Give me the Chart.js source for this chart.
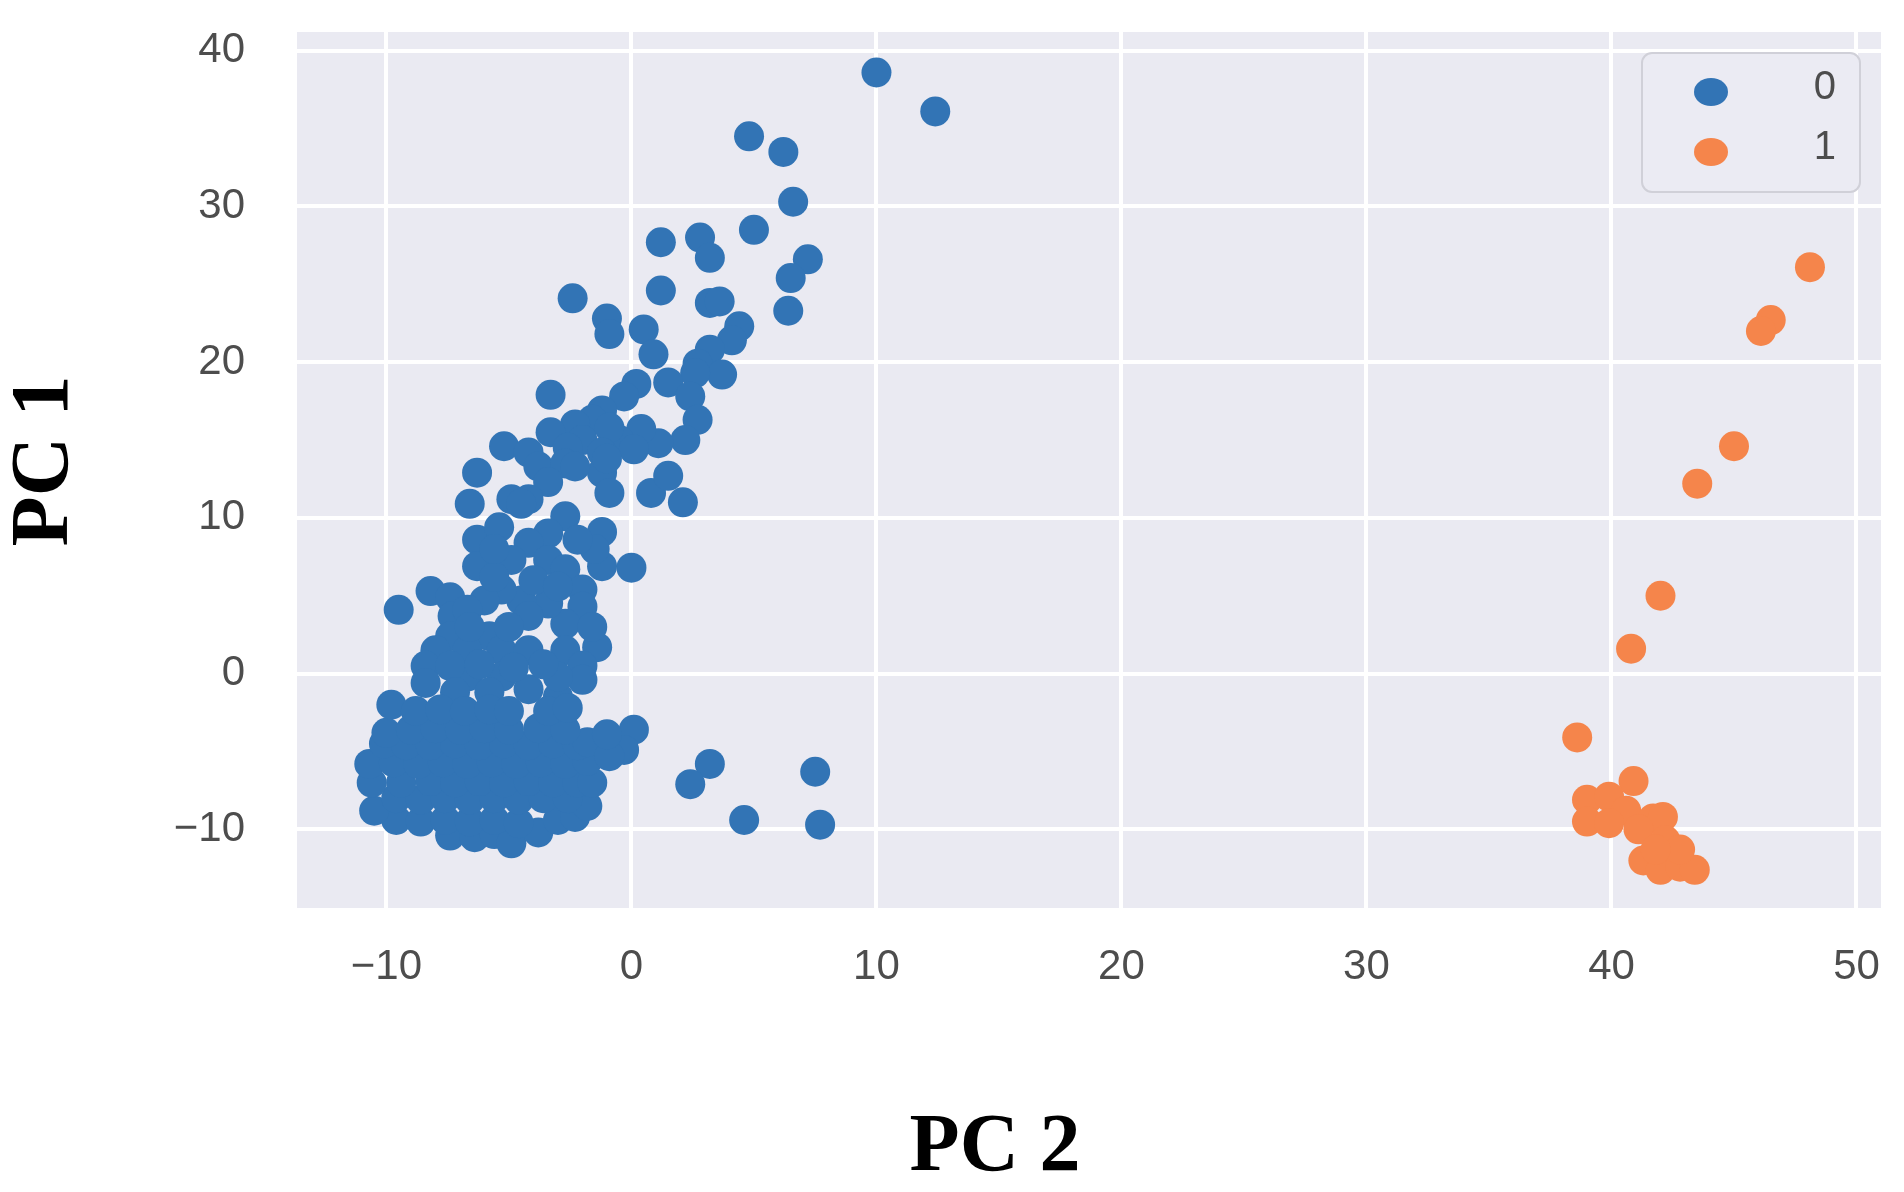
<!DOCTYPE html>
<html>
<head>
<meta charset="utf-8">
<script src="https://cdn.jsdelivr.net/npm/chart.js@4.4.1/dist/chart.umd.min.js"></script>
<style>
  html, body { margin: 0; padding: 0; background: #ffffff; }
  #wrap { width: 1904px; height: 1192px; }
</style>
</head>
<body>
<div id="wrap"><canvas id="c" width="1904" height="1192"></canvas></div>
<script>
// ---- data ----
const seriesLabels = ['0', '1'];
const seriesColors = ['#3274b5', '#f5854b'];

// class 0 points: [PC 2, PC 1]
const class0 = [
  [10.0,38.6],[12.4,36.1],[4.8,34.5],[6.2,33.5],[6.6,30.3],[5.0,28.5],[1.2,27.7],[2.8,28.0],
  [3.2,26.7],[7.2,26.6],[6.5,25.4],[1.2,24.6],[3.2,23.8],[3.6,23.9],[6.4,23.3],[-2.4,24.1],
  [-1.0,22.8],[-0.9,21.8],[0.5,22.1],[0.9,20.5],[4.4,22.3],[4.1,21.4],[3.2,20.8],[2.7,19.9],
  [3.7,19.2],[2.6,19.3],[-3.3,17.9],[0.2,18.6],[1.5,18.7],[2.4,17.8],[2.7,16.3],[2.2,15.0],
  [1.1,14.8],[0.4,15.7],[-0.3,17.8],[-1.2,16.9],[-1.6,16.3],[-2.3,16.0],[-3.3,15.5],[-5.2,14.6],
  [-4.2,14.2],[-2.0,15.0],[-0.5,15.0],[-0.9,15.8],[0.1,14.4],[-1.2,14.2],[-2.6,14.5],[-3.8,13.3],
  [-6.3,12.9],[-6.6,10.9],[-4.9,11.2],[-2.7,13.5],[-1.2,12.9],[-0.9,11.6],[0.8,11.6],[2.1,11.0],
  [1.5,12.7],[-3.4,12.3],[-4.2,11.2],[-1.0,13.8],
  [-1.2,9.1],[-1.2,6.9],[0.0,6.8],[-9.5,4.1],[-8.2,5.3],[-7.4,4.9],[-7.3,3.7],[-6.3,8.6],
  [-6.3,6.9],[-5.4,9.4],[-4.5,10.9],[-2.3,13.3],[-2.7,10.1],[-3.4,9.0],[-4.2,8.4],[-4.9,7.3],
  [-3.4,7.3],[-2.7,6.7],[-2.0,5.4],[-2.0,4.3],[-2.7,3.2],[-3.4,4.5],[-4.5,4.7],[-4.2,3.7],
  [-5.3,5.4],[-6.0,4.7],[-6.7,4.1],[-5.8,2.4],[-7.4,2.4],[-8.0,1.5],[-8.4,0.5],[-8.4,-0.6],
  [-6.7,1.5],[-5.3,1.5],[-4.2,1.5],[-2.7,1.5],[-1.4,1.7],[-2.0,0.5],[-2.0,-0.4],[-3.0,-1.5],
  [-4.2,-1.0],[-3.0,-0.2],[-5.3,-0.2],[-6.7,-0.2],
  [-5.6,6.2],[-4.0,6.0],[-3.0,5.6],[-5.0,3.0],[-6.6,3.0],[-7.4,0.5],[-3.6,0.6],[-1.6,3.0],
  [-1.5,8.0],[-2.2,8.6],[-5.6,8.0],[-6.2,0.6],[-4.8,0.4],[-5.8,-1.2],[-7.2,-1.2],
  [-7.4,-10.4],[-6.4,-10.5],[-5.6,-10.3],[-4.9,-10.9],[-3.8,-10.2],
  [-9.6,-9.4],[-8.6,-9.5],[-7.6,-9.4],[-6.6,-9.5],[-5.6,-9.4],[-4.6,-9.6],[-3.0,-9.4],[-2.3,-9.2],
  [-10.5,-8.8],[-1.8,-8.5],
  [-9.6,-8.0],[-8.6,-8.1],[-7.6,-8.0],[-6.6,-8.1],[-5.6,-8.0],[-4.6,-8.1],[-3.6,-8.0],[-2.6,-8.0],
  [-10.6,-7.0],[-9.4,-7.0],[-8.2,-6.9],[-7.2,-7.0],[-6.2,-6.9],[-5.2,-7.0],[-4.2,-6.9],[-3.2,-7.0],
  [-2.2,-7.0],[-1.6,-7.0],
  [-10.7,-5.8],[-9.7,-5.7],[-8.7,-5.8],[-7.7,-5.7],[-6.7,-5.8],[-5.7,-5.7],[-4.7,-5.8],[-3.7,-5.7],
  [-2.7,-5.8],[-1.8,-5.6],
  [-10.1,-4.5],[-9.2,-4.6],[-8.2,-4.6],[-7.2,-4.5],[-6.2,-4.6],[-5.2,-4.5],[-4.2,-4.6],[-3.2,-4.5],
  [-2.2,-4.6],[-1.8,-4.4],
  [-10.0,-3.8],[-9.0,-3.6],[-8.0,-3.5],[-7.0,-3.6],[-6.0,-3.5],[-5.0,-3.6],[-3.8,-3.5],[-2.7,-3.6],
  [-9.8,-2.0],[-8.8,-2.4],[-7.8,-2.3],[-6.8,-2.4],[-5.8,-2.3],[-5.0,-2.4],[-3.4,-2.4],[-2.6,-2.2],
  [0.1,-3.6],[-0.3,-4.9],[-0.9,-5.3],[-1.0,-3.9],
  [3.2,-5.8],[2.4,-7.1],[7.5,-6.3],[4.6,-9.4],[7.7,-9.7]
];

// class 1 points: [PC 2, PC 1]
const class1 = [
  [48.1,26.1],[46.5,22.7],[46.1,22.0],[45.0,14.6],[43.5,12.2],[42.0,5.0],[40.8,1.6],[38.6,-4.1],
  [40.9,-6.9],[39.0,-8.1],[39.0,-9.5],[39.9,-7.9],[40.6,-8.8],[39.9,-9.6],[41.7,-9.3],[42.1,-9.2],
  [41.1,-10.0],[42.2,-10.7],[41.3,-12.0],[42.0,-12.6],[42.8,-12.4],[43.4,-12.6],[42.8,-11.3],[41.8,-11.3]
];

const xTicks = [-10, 0, 10, 20, 30, 40, 50];
const yTicks = [-10, 0, 10, 20, 30, 40];
const xTitle = 'PC 2';
const yTitle = 'PC 1';

// ---- styling ----
const tickFont = { family: '"Liberation Sans", Arial, sans-serif', size: 42 };
const tickColor = '#4d4d4d';
const fmt = v => String(v).replace('-', '\u2212');

const bgPlugin = {
  id: 'plotBg',
  beforeDraw(chart) {
    const { ctx, chartArea: a } = chart;
    ctx.save();
    ctx.fillStyle = '#eaeaf2';
    ctx.fillRect(a.left, a.top, a.right - a.left, a.bottom - a.top);
    ctx.restore();
  }
};

const titlesPlugin = {
  id: 'axisTitles',
  afterDraw(chart) {
    const ctx = chart.ctx;
    ctx.save();
    ctx.fillStyle = '#000000';
    ctx.font = 'bold 82px "Liberation Serif", "Times New Roman", serif';
    ctx.textAlign = 'center';
    ctx.textBaseline = 'alphabetic';
    ctx.fillText(xTitle, 995, 1170);
    ctx.translate(67, 461);
    ctx.rotate(-Math.PI / 2);
    ctx.fillText(yTitle, 0, 0);
    ctx.restore();
  }
};

const legendPlugin = {
  id: 'boxLegend',
  afterDraw(chart) {
    const ctx = chart.ctx;
    const x = 1642, y = 53, w = 218, h = 139, r = 10;
    ctx.save();
    ctx.beginPath();
    ctx.moveTo(x + r, y);
    ctx.arcTo(x + w, y, x + w, y + h, r);
    ctx.arcTo(x + w, y + h, x, y + h, r);
    ctx.arcTo(x, y + h, x, y, r);
    ctx.arcTo(x, y, x + w, y, r);
    ctx.closePath();
    ctx.fillStyle = '#ebebf3';
    ctx.fill();
    ctx.lineWidth = 2;
    ctx.strokeStyle = '#d0d0d8';
    ctx.stroke();
    chart.data.datasets.forEach((ds, i) => {
      const cy = 92 + i * 60;
      ctx.fillStyle = ds.backgroundColor;
      ctx.beginPath();
      ctx.ellipse(1711, cy, 17, 14, 0, 0, Math.PI * 2);
      ctx.fill();
      ctx.fillStyle = tickColor;
      ctx.font = '40px "Liberation Sans", Arial, sans-serif';
      ctx.textAlign = 'right';
      ctx.textBaseline = 'middle';
      ctx.fillText(ds.label, 1836, cy - 4);
    });
    ctx.restore();
  }
};

const toXY = arr => arr.map(p => ({ x: p[0], y: p[1] }));

new Chart(document.getElementById('c'), {
  type: 'scatter',
  data: {
    datasets: [
      { label: seriesLabels[0], data: toXY(class0), backgroundColor: seriesColors[0],
        pointRadius: 15, pointBorderWidth: 0, pointHoverRadius: 15 },
      { label: seriesLabels[1], data: toXY(class1), backgroundColor: seriesColors[1],
        pointRadius: 15, pointBorderWidth: 0, pointHoverRadius: 15 }
    ]
  },
  options: {
    responsive: false,
    animation: false,
    events: [],
    layout: { padding: { left: 0, right: 23, top: 32, bottom: 0 } },
    plugins: { legend: { display: false }, tooltip: { enabled: false } },
    scales: {
      x: {
        type: 'linear', min: -13.65, max: 51.0,
        afterBuildTicks: s => { s.ticks = xTicks.map(v => ({ value: v })); },
        afterFit: s => { s.height = 284; s.paddingLeft = 0; s.paddingRight = 0; },
        grid: { color: '#ffffff', lineWidth: 4, drawTicks: false },
        border: { display: false },
        ticks: { padding: 34, font: tickFont, color: tickColor, maxRotation: 0, autoSkip: false, callback: fmt }
      },
      y: {
        type: 'linear', min: -15.05, max: 41.2,
        afterBuildTicks: s => { s.ticks = yTicks.map(v => ({ value: v })); },
        afterFit: s => { s.width = 297; s.paddingTop = 0; s.paddingBottom = 0; },
        grid: { color: '#ffffff', lineWidth: 4, drawTicks: false },
        border: { display: false },
        ticks: { padding: 52, font: tickFont, color: tickColor, autoSkip: false, callback: fmt }
      }
    }
  },
  plugins: [bgPlugin, titlesPlugin, legendPlugin]
});
</script>
</body>
</html>
